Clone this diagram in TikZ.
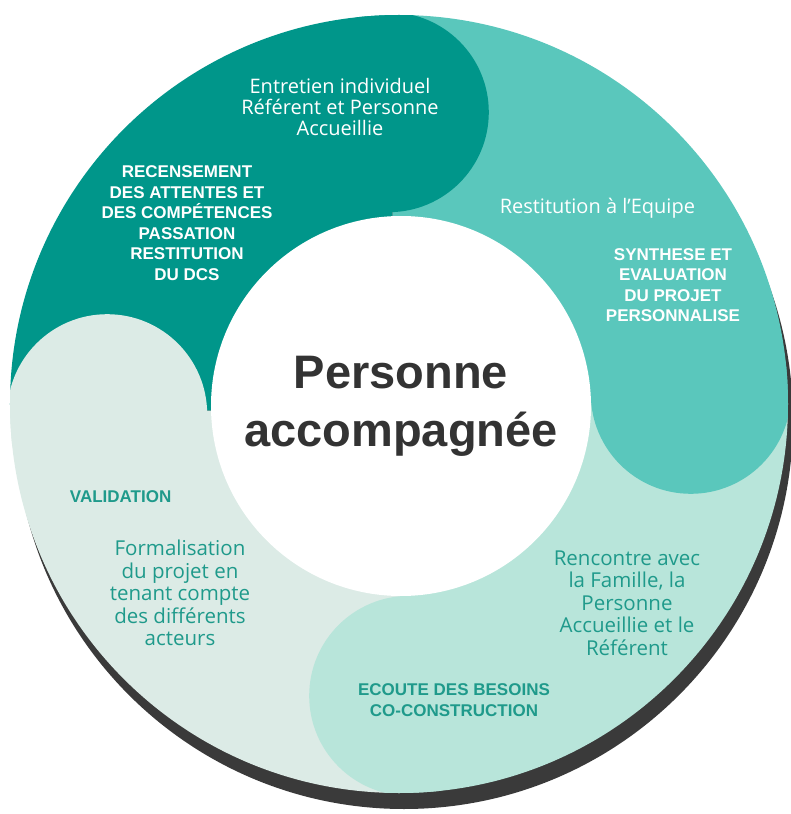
\documentclass[tikz,border=0pt]{standalone}
\usepackage{fontspec}
\setmainfont{Liberation Sans}
\newfontfamily\regfont{Open Sans}
\definecolor{darkteal}{HTML}{00968A}
\definecolor{midteal}{HTML}{5AC7BC}
\definecolor{mint}{HTML}{B8E5DA}
\definecolor{palemint}{HTML}{DCEBE6}
\definecolor{tealtext}{HTML}{1F9A8B}
\definecolor{shadowgray}{HTML}{3A3A3A}
\definecolor{inktext}{HTML}{333333}
\tikzset{
  capsbox/.style={align=center, font=\fontsize{17}{20.5}\selectfont\bfseries},
  plainbox/.style={align=center, font=\fontsize{20}{21}\selectfont\regfont},
}
\begin{document}
\begin{tikzpicture}[x=1pt, y=1pt]
			\useasboundingbox (-399,-410) rectangle (391,404);
			
			% shadow behind the ring
			\fill[shadowgray] (5,-16) circle (389);
			
			\begin{scope}
				\clip (0,0) circle (389);
				\foreach \col/\a in {darkteal/182, midteal/92, mint/2, palemint/-88}
					\fill[\col] (0,0) -- (\a:400) arc[start angle=\a, end angle=\a-90, radius=400] -- cycle;
				% round ends
				\foreach \col/\a in {darkteal/92, midteal/2, mint/-88, palemint/182}
					\fill[\col] (\a:292) circle (100);
			\end{scope}
			
			\node (z0)[shape=circle, fill=white, minimum size=380pt, align=center, text=inktext,
				font=\fontsize{47}{58}\selectfont\bfseries] 
			at (2,-2){
				Personne \\
				accompagnée
			}; 
			
			\node (z1)[plainbox, text=white] 
			at (-59,297){
				Entretien individuel \\
				Référent et Personne \\
				Accueillie
			}; 
			
			\node (z2)[capsbox, text=white] 
			at (-212,181){
				RECENSEMENT \\
				DES ATTENTES ET \\
				DES COMPÉTENCES \\
				PASSATION \\
				RESTITUTION \\
				DU DCS
			}; 
			
			\node (z3)[plainbox, text=white] 
			at (201,196){
				Restitution à l’Equipe
			}; 
			
			\node (z4)[capsbox, text=white] 
			at (274,119){
				SYNTHESE ET \\
				EVALUATION \\
				DU PROJET \\
				PERSONNALISE
			}; 
			
			\node (z5)[capsbox, text=tealtext] 
			at (-276,-93){
				VALIDATION
			}; 
			
			\node (z6)[plainbox, text=tealtext, font=\fontsize{20.5}{22.5}\selectfont\regfont] 
			at (-219,-189){
				Formalisation \\
				du projet en \\
				tenant compte \\
				des différents \\
				acteurs
			}; 
			
			\node (z7)[plainbox, text=tealtext, font=\fontsize{20.5}{22.5}\selectfont\regfont] 
			at (228,-199){
				Rencontre avec \\
				la Famille, la \\
				Personne \\
				Accueillie et le \\
				Référent
			}; 
			
			\node (z8)[capsbox, text=tealtext] 
			at (55,-296){
				ECOUTE DES BESOINS \\
				CO-CONSTRUCTION
			}; 
\end{tikzpicture}
\end{document}
